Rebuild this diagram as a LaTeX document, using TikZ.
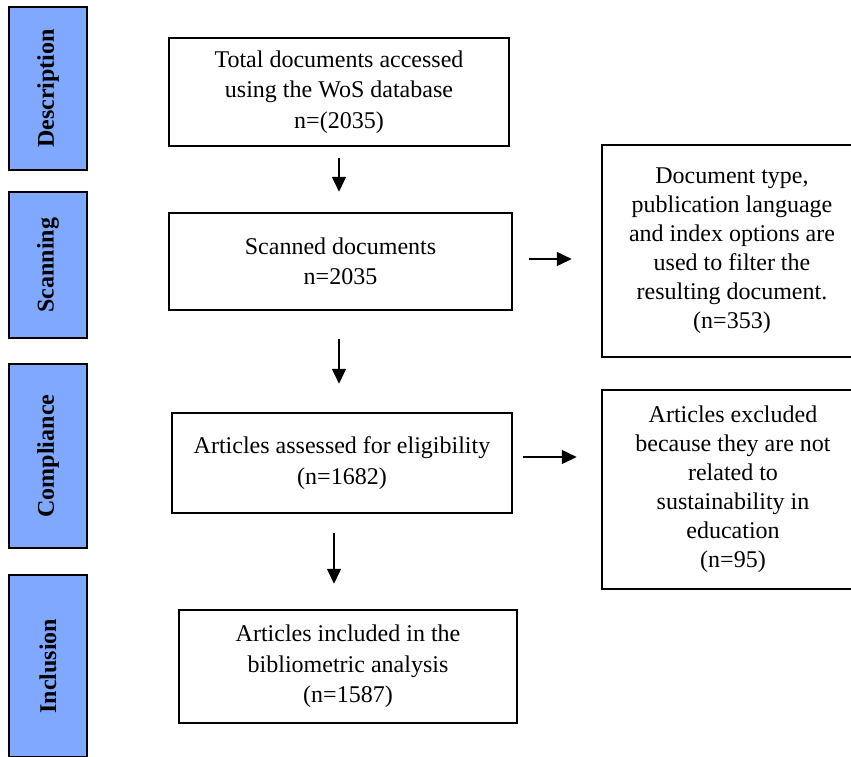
\documentclass[tikz,border=0pt]{standalone}
\usepackage{fontspec}
\setmainfont{Liberation Serif}
\usetikzlibrary{arrows.meta}
\definecolor{barblue}{RGB}{128,168,255}
\begin{document}
\begin{tikzpicture}[x=1pt,y=-1pt,
  bar/.style={draw=black, line width=2pt, fill=barblue, rotate=90, minimum height=78pt, inner sep=0pt, font=\fontsize{24}{30}\selectfont\bfseries},
  mainbox/.style={draw=black, line width=2.5pt, align=center, inner sep=0pt, font=\fontsize{24}{30.5}\selectfont},
  sidebox/.style={draw=black, line width=2.5pt, align=center, inner sep=0pt, font=\fontsize{24}{29}\selectfont},
  arr/.style={line width=1.4pt, -{Triangle[length=15pt,width=14pt]}}]
\useasboundingbox (0,0) rectangle (851,756);
\clip (0,0) rectangle (851,756);
% stage bars
\node[bar, minimum width=163pt] (desc) at (48,88.5) {Description};
\node[bar, minimum width=146pt] (scan) at (48,265) {Scanning};
\node[bar, minimum width=184pt] (comp) at (48,456) {Compliance};
\node[bar, minimum width=182pt] (incl) at (48,666) {Inclusion};
% main boxes
\node[mainbox, minimum width=340pt, minimum height=108pt] (b1) at (339,92)
  {Total documents accessed\\using the WoS database\\n=(2035)};
\node[mainbox, minimum width=343pt, minimum height=97pt] (b2) at (340.5,261.5)
  {Scanned documents\\n=2035};
\node[mainbox, minimum width=340pt, minimum height=100pt] (b3) at (342,463)
  {Articles assessed for eligibility\\(n=1682)};
\node[mainbox, minimum width=338pt, minimum height=113pt] (b4) at (348,666.5)
  {Articles included in the\\bibliometric analysis\\(n=1587)};
% side boxes
\node[sidebox, minimum width=260pt, minimum height=212pt] (r1) at (732,251)
  {Document type,\\publication language\\and index options are\\used to filter the\\resulting document.\\(n=353)};
\node[sidebox, minimum width=262pt, minimum height=199pt] (r2) at (733,489.5)
  {Articles excluded\\because they are not\\related to\\sustainability in\\education\\(n=95)};
% helper coordinates
\coordinate (v1) at (339,0);
\coordinate (v3) at (334,0);
\coordinate (h1) at (0,259);
\coordinate (h2) at (0,457);
% arrows
\draw[arr, shorten <=11pt, shorten >=20pt] (b1.south -| v1) -- (b2.north -| v1);
\draw[arr, shorten <=28pt, shorten >=28pt] (b2.south -| v1) -- (b3.north -| v1);
\draw[arr, shorten <=19pt, shorten >=25pt] (b3.south -| v3) -- (b4.north -| v3);
\draw[arr, shorten <=16pt, shorten >=29pt] (b2.east |- h1) -- (r1.west |- h1);
\draw[arr, shorten <=10pt, shorten >=24pt] (b3.east |- h2) -- (r2.west |- h2);
\end{tikzpicture}
\end{document}
